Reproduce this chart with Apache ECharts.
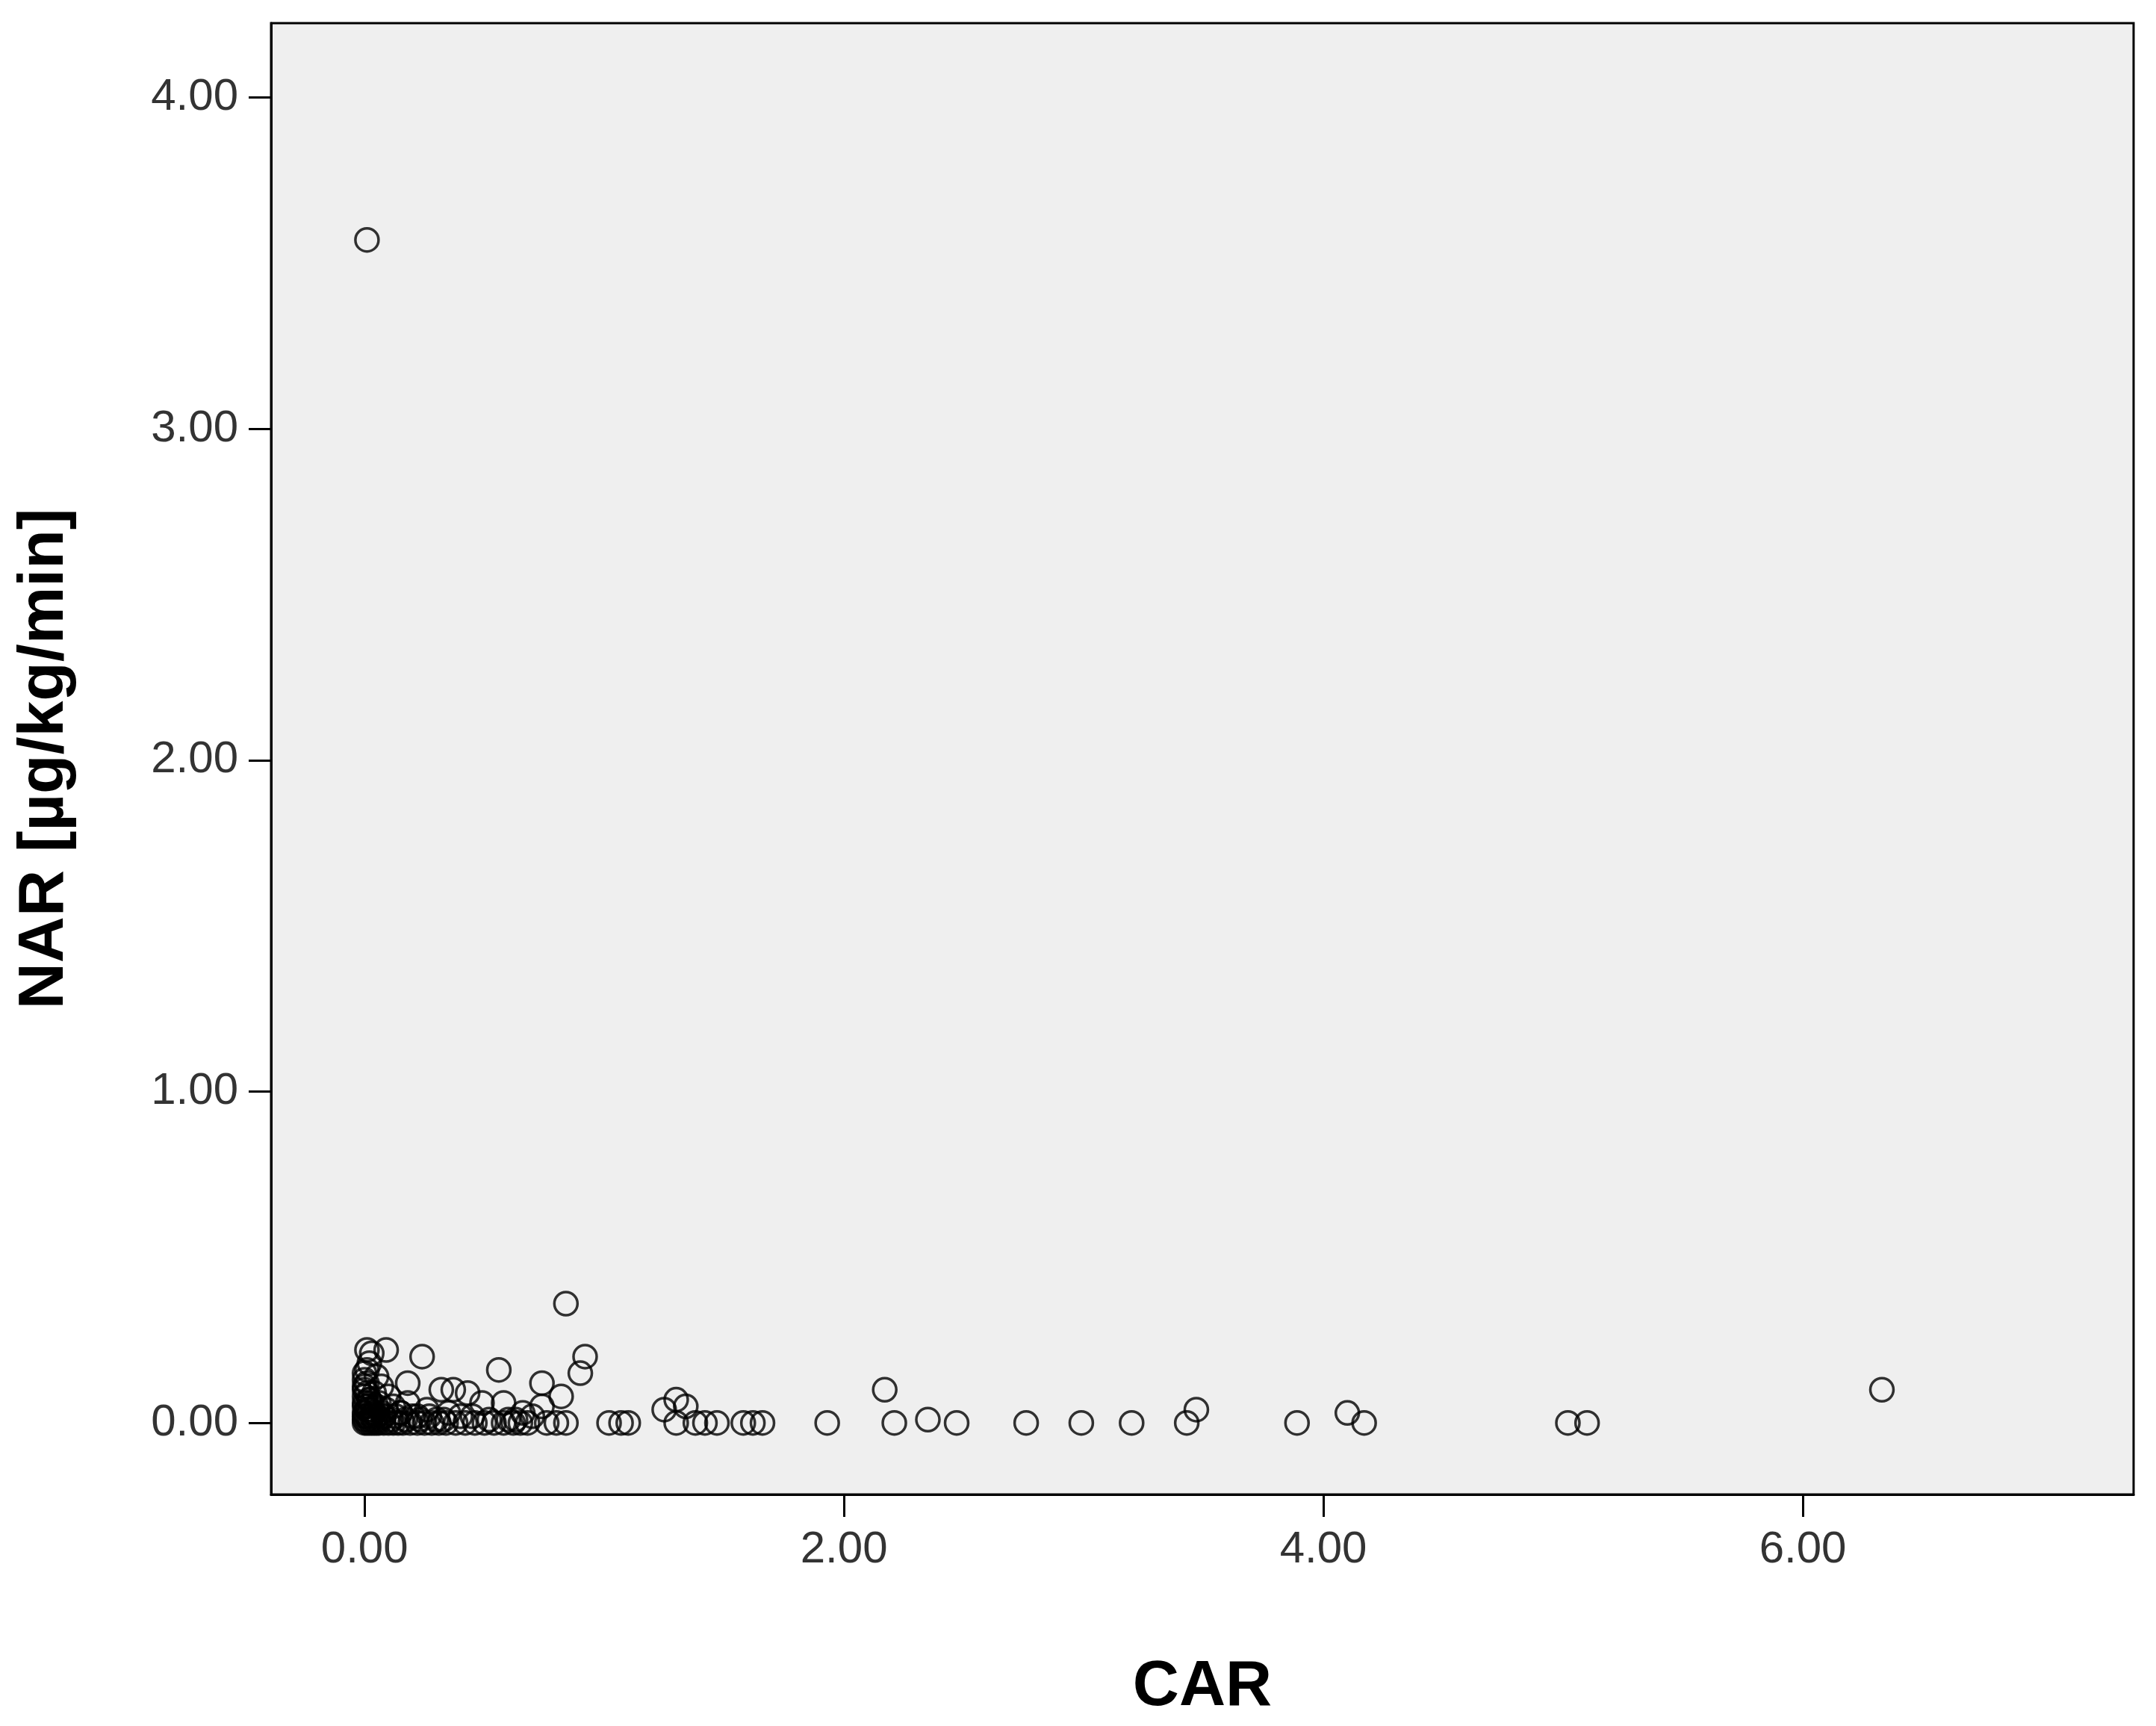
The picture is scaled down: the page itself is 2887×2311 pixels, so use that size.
<!DOCTYPE html>
<html><head><meta charset="utf-8">
<script src="https://cdn.jsdelivr.net/npm/echarts@6/dist/echarts.min.js"></script>
<style>html,body{margin:0;padding:0;background:#fff}#c{width:2887px;height:2311px}</style>
</head><body><div id="c"></div>
<script>
const xTicks=[0,2,4,6];
const yTicks=[0,1,2,3,4];
const carValues=[0.01,0.84,0.92,0.90,2.17,6.33,3.47,4.10,4.17,
1.02,1.07,1.10,1.30,1.38,1.42,1.47,1.58,1.62,1.66,1.93,2.21,2.35,2.47,2.76,2.99,3.20,3.43,3.89,5.02,5.10,
1.25,1.30,1.34,
0.09,0.24,0.56,0.74,0.82,0.01,0.03,0.18,0.32,0.37,0.43,0.49,0.58,0.66,0.74,
0,0.01,0.02,0.03,0.04,0.05,0.06,0.08,0.10,0.12,0.14,0.16,0.19,0.22,0.25,0.28,0.31,0.34,0.38,0.42,0.46,0.50,0.54,0.58,0.62,0.65,0.68,0.76,0.80,0.84,
0,0,0,0,0.01,0.01,0.02,0.02,0.03,0.04,0.05,0.06,0.07,0.08,0.10,0.12,0.15,0.18,0.22,0.26,0.30,0.35,0.40,0.60,0.70,
0,0,0,0,0,0,0.01,0.01,0.01,0.01,0.02,0.02,0.02,0.03,0.03,0.04,0.04,0.05,0.05,0.06,0.07,0.08,0.09,0.11,0.13,0.15,0.17,0.2,0.23,0.27,0.33,0.45,0.52,0.63];
const narValues=[3.57,0.36,0.20,0.15,0.10,0.10,0.04,0.03,0,
0,0,0,0,0,0,0,0,0,0,0,0,0.01,0,0,0,0,0,0,0,0,
0.04,0.07,0.05,
0.22,0.20,0.16,0.12,0.08,0.22,0.21,0.12,0.10,0.10,0.09,0.06,0.06,0.03,0.05,
0,0,0,0,0,0,0,0,0,0,0,0,0,0,0,0,0,0,0,0,0,0,0,0,0,0,0,0,0,0,
0.02,0.05,0.10,0.15,0.04,0.12,0.07,0.18,0.03,0.09,0.14,0.06,0.11,0.02,0.08,0.05,0.03,0.06,0.02,0.04,0.01,0.03,0.02,0.01,0.02,
0.01,0.03,0.06,0.08,0.11,0.13,0.02,0.05,0.09,0.16,0.01,0.04,0.07,0.02,0.06,0.01,0.03,0.02,0.05,0.01,0.03,0.02,0.04,0.01,0.02,0.03,0.01,0.02,0.01,0.02,0.01,0.02,0.01,0.01];
const pts=carValues.map((x,i)=>[x,narValues[i]]);
const ch=echarts.init(document.getElementById('c'));
const lab={fontFamily:'Liberation Sans',fontSize:60,color:'#333',formatter:v=>v.toFixed(2)};
ch.setOption({
 animation:false,
 grid:{left:363,right:30,top:31,bottom:310,show:true,backgroundColor:'#efefef',borderColor:'#000',borderWidth:3},
 xAxis:{type:'value',min:-0.39,max:7.38,name:'CAR',nameLocation:'middle',nameGap:215,
  nameTextStyle:{fontFamily:'Liberation Sans',fontSize:86,fontWeight:'bold',color:'#000'},
  axisLine:{show:true,onZero:false,lineStyle:{color:'#000',width:3}},
  axisTick:{show:true,customValues:xTicks,length:30,lineStyle:{color:'#000',width:3}},
  axisLabel:Object.assign({customValues:xTicks,margin:44},lab),splitLine:{show:false}},
 yAxis:{type:'value',min:-0.216,max:4.224,name:'NAR [µg/kg/min]',nameLocation:'middle',nameGap:260,
  nameTextStyle:{fontFamily:'Liberation Sans',fontSize:86,fontWeight:'bold',color:'#000'},
  axisLine:{show:true,onZero:false,lineStyle:{color:'#000',width:3}},
  axisTick:{show:true,customValues:yTicks,length:30,lineStyle:{color:'#000',width:3}},
  axisLabel:Object.assign({customValues:yTicks,margin:44},lab),splitLine:{show:false}},
 series:[{type:'scatter',data:pts,symbol:'circle',symbolSize:31,
  itemStyle:{color:'rgba(0,0,0,0)',borderColor:'#000',borderWidth:3.5}}]
});
</script></body></html>
